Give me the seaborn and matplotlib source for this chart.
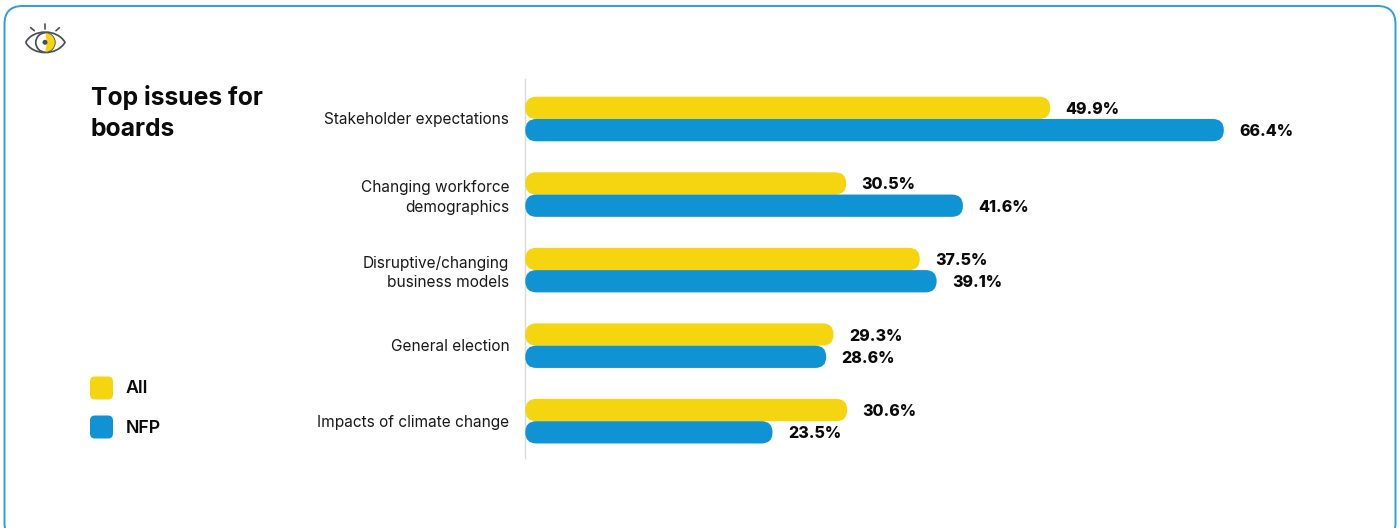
import matplotlib
matplotlib.use("Agg")
import matplotlib.pyplot as plt
from matplotlib.patches import FancyBboxPatch, Circle, Wedge, PathPatch, Arc
from matplotlib.path import Path
from matplotlib.transforms import ScaledTranslation
import pandas as pd
import seaborn as sns

categories = [
    "Stakeholder expectations",
    "Changing workforce\ndemographics",
    "Disruptive/changing\nbusiness models",
    "General election",
    "Impacts of climate change",
]
all_values = [49.9, 30.5, 37.5, 29.3, 30.6]
nfp_values = [66.4, 41.6, 39.1, 28.6, 23.5]
series_names = ["All", "NFP"]
palette = {"All": "#F5D50F", "NFP": "#1093D3"}

W, H = 1400, 528
sns.set_theme(style="white")
plt.rcParams["font.family"] = ["Inter", "DejaVu Sans"]
INK = "#0B0B0B"

df = pd.DataFrame({
    "issue": categories * 2,
    "series": ["All"] * len(categories) + ["NFP"] * len(categories),
    "share": all_values + nfp_values,
})

fig = plt.figure(figsize=(W / 100, H / 100), dpi=100, facecolor="white")

# Overlay in pixel coordinates for the card, icon, title and legend
bg = fig.add_axes([0, 0, 1, 1], zorder=0)
bg.set_xlim(0, W)
bg.set_ylim(H, 0)
bg.axis("off")
bg.add_patch(FancyBboxPatch((4.5, 6.0), 1391, 535, boxstyle="round,pad=0,rounding_size=18",
                            fc="white", ec="#2C9FDA", lw=1.4))

# Chart area: x scale of about 10.52 px per percentage point
left, right = 525.3, 1335.0
top, bottom = 79.0, 458.0
ax = fig.add_axes([left / W, 1 - bottom / H, (right - left) / W, (bottom - top) / H], zorder=1)
ax.patch.set_alpha(0)
sns.barplot(data=df, y="issue", x="share", hue="series", order=categories, hue_order=series_names,
            palette=palette, orient="h", width=0.59, gap=0, dodge=True, legend=False, ax=ax,
            saturation=1, errorbar=None)
px_per_x = 10.52
ax.set_xlim(0, (right - left) / px_per_x)
spacing = 75.55
ax.set_ylim((bottom - 119.0) / spacing, (top - 119.0) / spacing)
px_per_y = spacing

# Replace the square bars with rounded ones of the same extent
for container, name in zip(ax.containers, series_names):
    for rect, value in zip(container, df.loc[df.series == name, "share"]):
        rect.set_visible(False)
        ax.add_patch(FancyBboxPatch(
            (rect.get_x(), rect.get_y()), rect.get_width(), rect.get_height(),
            boxstyle=f"round,pad=0,rounding_size={11 / px_per_x}",
            mutation_aspect=px_per_x / px_per_y,
            fc=palette[name], ec="none", zorder=3))
        ax.annotate(f"{value:.1f}%", (value, rect.get_y() + rect.get_height() / 2),
                    xytext=(15.5 * 0.72, 0), textcoords="offset points", va="center_baseline", ha="left",
                    fontsize=11.5, fontweight=800, color=INK)

ax.set_xlabel("")
ax.set_ylabel("")
ax.set_xticks([])
ax.tick_params(axis="y", length=0, pad=11.5, labelsize=11.1, labelcolor="#1a1a1a")
nudge = ScaledTranslation(0, 0.4 / 72, fig.dpi_scale_trans)
for label in ax.get_yticklabels():
    label.set_ha("right")
    label.set_linespacing(1.36)
    label.set_transform(label.get_transform() + nudge)
sns.despine(ax=ax, top=True, right=True, bottom=True, left=False)
ax.spines["left"].set_color("#DADADA")
ax.spines["left"].set_linewidth(1.0)

# Title and legend
bg.text(91, 97, "Top issues for", fontsize=17.8, fontweight="bold", color=INK, va="center", ha="left")
bg.text(91, 129, "boards", fontsize=17.8, fontweight="bold", color=INK, va="center", ha="left")
for name, y, text_y in zip(series_names, [388, 427], [388.5, 428.5]):
    bg.add_patch(FancyBboxPatch((90, y - 11.5), 23, 23, boxstyle="round,pad=0,rounding_size=5",
                                fc=palette[name], ec="none"))
    bg.text(126, text_y, name, fontsize=12.8, fontweight="semibold", color=INK, va="center", ha="left")

# Eye icon: almond outline, iris with a yellow crescent, pupil and three rays
icon = "#4A4F57"
eye = Path([(25.7, 42.3), (33, 28.7), (57, 28.7), (65, 42.3), (57, 56), (33, 56), (25.7, 42.3)],
           [Path.MOVETO, Path.CURVE4, Path.CURVE4, Path.CURVE4, Path.CURVE4, Path.CURVE4, Path.CURVE4])
bg.add_patch(PathPatch(eye, fc="white", ec=icon, lw=1.25))
bg.add_patch(Wedge((45.5, 42.5), 9.8, -90, 90, fc="#F5D50F", ec="none"))
# The inner edge of the crescent is a large white disc, kept inside the iris
inner = Circle((17.0, 42.5), 29.5, fc="white", ec="none")
bg.add_patch(inner)
inner.set_clip_path(Circle((45.5, 42.5), 10.2, transform=bg.transData))
bg.add_patch(Arc((45.5, 42.5), 19.5, 19.5, theta1=90, theta2=270, ec=icon, lw=1.25))
bg.add_patch(Arc((45.5, 42.5), 19.5, 19.5, theta1=-90, theta2=90, ec=icon, lw=0.6))
bg.add_patch(Circle((45, 42.3), 2.5, fc=icon, ec="none"))
for x0, y0, x1, y1 in [(30.7, 27.7, 34.3, 30.7), (44.7, 24, 44.7, 29), (59.3, 27.7, 56, 30.7)]:
    bg.plot([x0, x1], [y0, y1], color=icon, lw=1.2)

fig.savefig("out.png", dpi=100)
